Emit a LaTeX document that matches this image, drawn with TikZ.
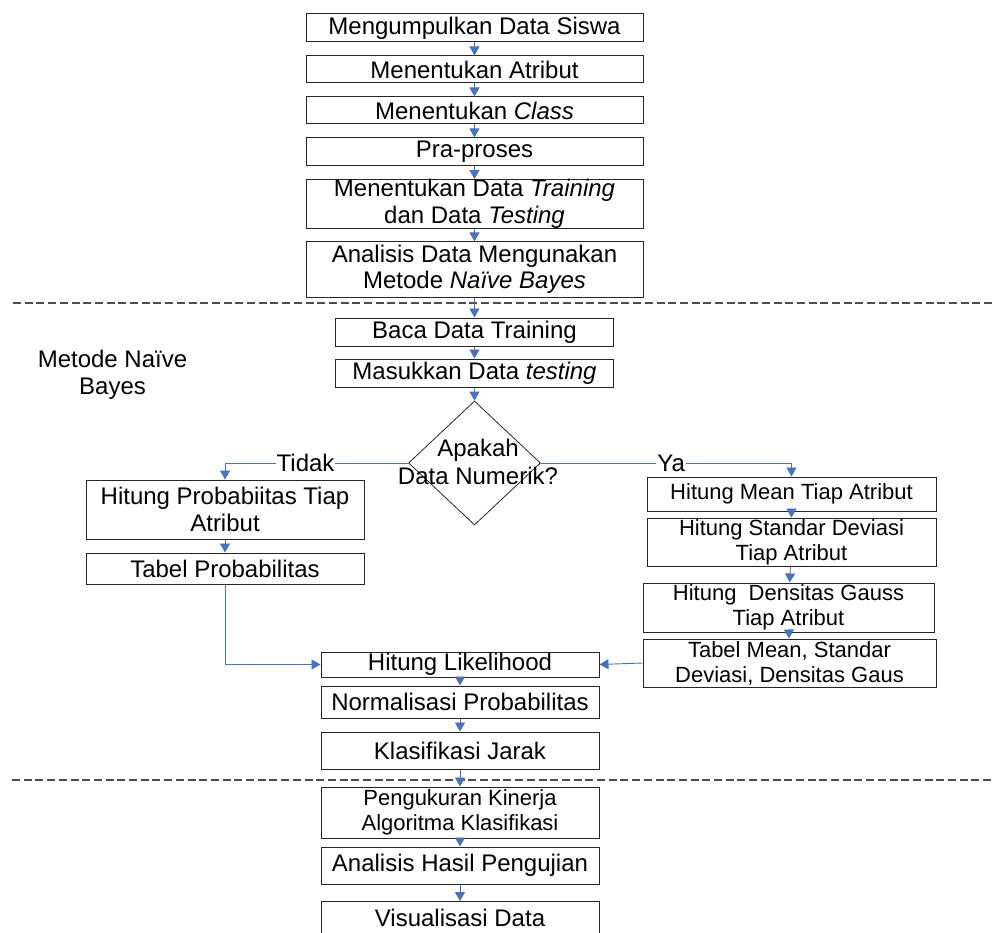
\documentclass[tikz,border=0pt]{standalone}
\usepackage{fontspec}
\setmainfont{Liberation Sans}
\usetikzlibrary{shapes.geometric, arrows.meta}
\definecolor{biru}{RGB}{68,114,196}
\tikzset{
    proses/.style={draw=black!85, line width=1pt, rectangle, inner sep=0pt, align=center, font=\fontsize{24}{26.5}\selectfont},
    kecil/.style={font=\fontsize{22}{25}\selectfont},
    keputusan/.style={draw=black!85, line width=0.8pt, diamond, inner sep=0pt, minimum width=132pt, minimum height=124pt},
    panah/.style={biru, line width=0.9pt, -{Triangle[width=10pt,length=9pt]}},
    batas/.style={black!70, line width=1.3pt, dash pattern=on 8pt off 3.7pt},
    ket/.style={fill=white, text=black, inner sep=1pt, font=\fontsize{24}{27}\selectfont}
}

\begin{document}
\begin{tikzpicture}[x=1pt, y=-1pt]
    \useasboundingbox (0,0) rectangle (995,933);
    \clip (0,0) rectangle (995,933);
    \draw [batas] (13,303) -- (995,303);
    \draw [batas] (12,780) -- (995,780);
    \node [proses, minimum width=337pt, minimum height=28pt] (kumpul) at (474.5,28) {Mengumpulkan Data Siswa};
    \node [proses, minimum width=337pt, minimum height=27pt] (atribut) at (474.5,69.5) {Menentukan Atribut};
    \node [proses, minimum width=337pt, minimum height=27pt] (kelas) at (474.5,110.5) {Menentukan \textit{Class}};
    \node [proses, minimum width=337pt, minimum height=28pt] (praproses) at (474.5,152) {Pra-proses};
    \node [proses, minimum width=337pt, minimum height=48pt] (bagi) at (474.5,204) {Menentukan Data \textit{Training}\\dan Data \textit{Testing}};
    \node [proses, minimum width=337pt, minimum height=55pt] (analisis) at (474.5,269.5) {Analisis Data Mengunakan\\Metode \textit{Naïve Bayes}};
    \node [proses, minimum width=278pt, minimum height=28pt] (baca) at (474.5,332) {Baca Data Training};
    \node [proses, minimum width=278pt, minimum height=28pt] (masuk) at (474.5,373) {Masukkan Data \textit{testing}};
    \node [keputusan] (tanya) at (474.5,463) {};
    \node [align=center, inner sep=0pt, font=\fontsize{24}{28}\selectfont] (tanyateks) at (478,462) {Apakah\\Data Numerik?};
    \node [align=center, inner sep=0pt, font=\fontsize{24}{27}\selectfont] (judul) at (112.5,374.5) {Metode Naïve\\Bayes};
    \node [proses, minimum width=278pt, minimum height=59pt] (prob) at (225,509.5) {Hitung Probabiitas Tiap\\Atribut};
    \node [proses, minimum width=278pt, minimum height=31pt] (tabelp) at (225,568.5) {Tabel Probabilitas};
    \node [proses, kecil, minimum width=289pt, minimum height=34pt] (mean) at (791.5,494) {Hitung Mean Tiap Atribut};
    \node [proses, kecil, minimum width=289pt, minimum height=48pt] (std) at (791.5,542) {Hitung Standar Deviasi\\Tiap Atribut};
    \node [proses, kecil, minimum width=291pt, minimum height=49pt] (dens) at (788.5,607.5) {Hitung\ \ Densitas Gauss\\Tiap Atribut};
    \node [proses, kecil, minimum width=293pt, minimum height=48pt] (tabm) at (789.5,663) {Tabel Mean, Standar\\Deviasi, Densitas Gaus};
    \node [proses, minimum width=278pt, minimum height=25pt] (like) at (460,664.5) {Hitung Likelihood};
    \node [proses, minimum width=278pt, minimum height=32pt] (norm) at (460,702) {Normalisasi Probabilitas};
    \node [proses, minimum width=278pt, minimum height=37pt] (klas) at (460,750.5) {Klasifikasi Jarak};
    \node [proses, kecil, minimum width=278pt, minimum height=51pt] (peng) at (460,812.5) {Pengukuran Kinerja\\Algoritma Klasifikasi};
    \node [proses, minimum width=278pt, minimum height=37pt] (hasil) at (460,865.5) {Analisis Hasil Pengujian};
    \node [proses, minimum width=278pt, minimum height=33pt] (vis) at (460,918) {Visualisasi Data};
    \foreach \a/\b in {kumpul/atribut, atribut/kelas, kelas/praproses, praproses/bagi, bagi/analisis, analisis/baca, baca/masuk, masuk/tanya, prob/tabelp, mean/std, std/dens, dens/tabm, like/norm, norm/klas, klas/peng, peng/hasil, hasil/vis}
    \draw [panah] (\a) -- (\b);
    \draw [panah] (tanya.west) -| node [ket, pos=0.28] {Tidak} (prob.north);
    \draw [panah] (tanya.east) -| node [ket, pos=0.26] {Ya} (mean.north);
    \draw [panah] (tabelp.south) |- (like.west);
    \draw [panah] (tabm.west) -- (like.east);
\end{tikzpicture}
\end{document}
